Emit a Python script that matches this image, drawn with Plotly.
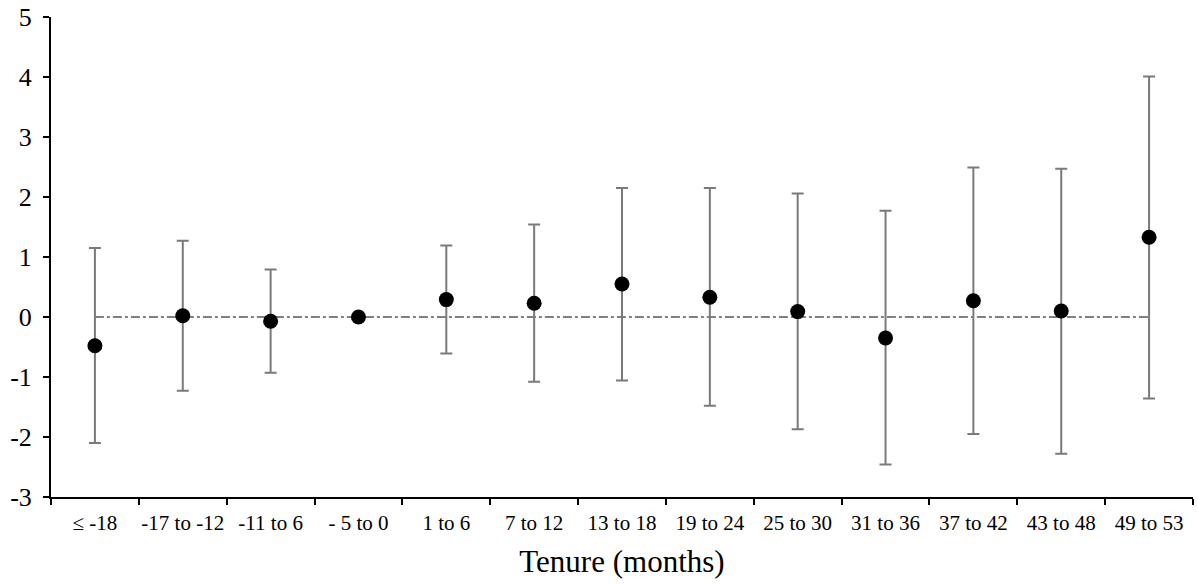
import math
import plotly.graph_objects as go

# Tenure bins and estimated effects with 95% confidence bounds
categories = ["\u2264 -18", "-17 to -12", "-11 to 6", "- 5 to 0", "1 to 6", "7 to 12",
              "13 to 18", "19 to 24", "25 to 30", "31 to 36", "37 to 42",
              "43 to 48", "49 to 53"]
estimate = [-0.48, 0.02, -0.07, 0.0, 0.29, 0.23, 0.55, 0.33, 0.09, -0.35, 0.27, 0.10, 1.33]
upper = [1.15, 1.27, 0.79, None, 1.19, 1.54, 2.15, 2.15, 2.06, 1.77, 2.49, 2.47, 4.01]
lower = [-2.10, -1.23, -0.93, None, -0.61, -1.08, -1.06, -1.48, -1.87, -2.46, -1.95, -2.28, -1.36]
y_ticks = [-3, -2, -1, 0, 1, 2, 3, 4, 5]

err_plus = [(u - e) if u is not None else math.nan for u, e in zip(upper, estimate)]
err_minus = [(e - l) if l is not None else math.nan for l, e in zip(lower, estimate)]

fig = go.Figure()

# Reference line at zero spanning the first to last bin
fig.add_trace(go.Scatter(
    x=[categories[0], categories[-1]], y=[0, 0], mode="lines",
    line=dict(color="black", width=1, dash="dashdot"),
    hoverinfo="skip", showlegend=False,
))

fig.add_trace(go.Scatter(
    x=categories, y=estimate, mode="markers",
    marker=dict(color="black", size=15),
    error_y=dict(type="data", symmetric=False, array=err_plus, arrayminus=err_minus,
                 color="#7a7a7a", thickness=2, width=6),
    showlegend=False,
))

fig.update_layout(
    width=1198, height=584,
    margin=dict(l=51, r=5, t=17, b=87, autoexpand=False),
    plot_bgcolor="white", paper_bgcolor="white",
    font=dict(family="Liberation Serif, Times New Roman, serif", color="black"),
)

fig.update_xaxes(
    type="category", categoryorder="array", categoryarray=categories,
    range=[-0.5, len(categories) - 0.5], automargin=False,
    showline=True, linecolor="black", linewidth=2,
    ticks="outside", tickson="boundaries", ticklen=6, tickwidth=2, tickcolor="black",
    ticklabelstandoff=6, tickangle=0,
    tickfont=dict(size=21), showgrid=False, zeroline=False,
    title=dict(text="Tenure (months)", font=dict(size=31), standoff=16),
)

fig.update_yaxes(
    range=[-3, 5], tickvals=y_ticks, ticktext=[str(v) for v in y_ticks],
    automargin=False,
    showline=True, linecolor="black", linewidth=2,
    ticks="outside", ticklen=6, tickwidth=2, tickcolor="black",
    ticklabelstandoff=6,
    tickfont=dict(size=26), showgrid=False, zeroline=False,
)

fig.write_html("out.html")
